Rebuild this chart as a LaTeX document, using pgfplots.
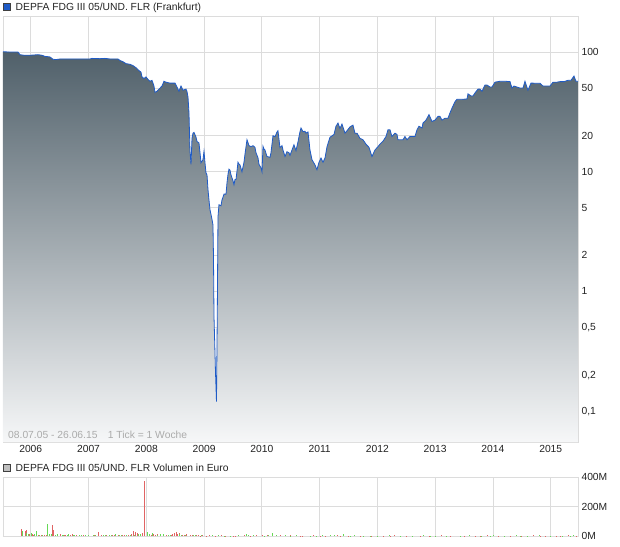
\documentclass[border=0pt]{standalone}
\usepackage{pgfplots}
\usepackage{pgfplotstable}
\pgfplotsset{compat=1.18}
\usepackage{fontspec}
\setmainfont{Liberation Sans}
\definecolor{gridc}{HTML}{DCDCDC}
\definecolor{linec}{HTML}{1F5BC6}
\definecolor{topc}{HTML}{50606A}
\definecolor{botc}{HTML}{F6F7F8}
\definecolor{volred}{HTML}{E06464}
\definecolor{volgreen}{HTML}{66D855}
\definecolor{txt}{HTML}{222222}

\pgfplotstableread{
year value
2005.520 100.5
2005.641 100
2005.780 100
2005.814 95
2005.883 94
2005.987 94
2006.126 95
2006.195 94
2006.247 92
2006.333 91
2006.385 87
2006.437 86.5
2006.507 87.5
2006.680 87.5
2006.853 87.5
2007.026 87.5
2007.060 88.5
2007.199 88
2007.285 88.5
2007.372 87.5
2007.510 87.5
2007.545 85
2007.597 83
2007.649 80
2007.718 79
2007.770 77
2007.822 74
2007.874 70
2007.908 68
2007.926 62
2007.960 60
2007.995 62
2008.030 59
2008.064 57
2008.099 58
2008.133 52
2008.151 46
2008.185 47
2008.220 49
2008.272 52
2008.306 57
2008.341 56
2008.410 55
2008.497 55
2008.531 51
2008.566 47
2008.601 52
2008.635 48
2008.687 49
2008.704 47
2008.722 42
2008.739 31
2008.756 15
2008.774 11.5
2008.791 19
2008.808 21
2008.826 21.3
2008.860 19.5
2008.878 17.9
2008.912 17.4
2008.930 14.4
2008.947 11.9
2008.981 12.6
2008.999 14.8
2009.016 11.9
2009.033 9.8
2009.051 9.4
2009.068 7.1
2009.085 5.8
2009.103 4.8
2009.120 4.4
2009.137 4.0
2009.154 3.6
2009.163 1.97
2009.172 0.62
2009.198 0.21
2009.215 0.12
2009.229 0.67
2009.241 4.2
2009.258 5.3
2009.293 5.2
2009.310 5.8
2009.345 6.5
2009.380 6.5
2009.397 8.1
2009.414 9.5
2009.431 10.5
2009.449 10.3
2009.466 9.4
2009.501 8.4
2009.518 7.8
2009.535 8.6
2009.553 8.6
2009.587 12
2009.604 11.6
2009.622 11.4
2009.656 10
2009.691 12
2009.708 14
2009.743 18.5
2009.778 16.5
2009.812 16.2
2009.847 16.5
2009.881 16
2009.899 14.4
2009.933 13.1
2009.951 11.5
2009.985 10.8
2010.003 10
2010.020 16.3
2010.037 15.5
2010.054 15.2
2010.089 13.4
2010.141 13.2
2010.158 14.4
2010.193 20
2010.228 19.6
2010.262 21.5
2010.279 22
2010.314 15.9
2010.349 16.5
2010.366 15.2
2010.401 13.4
2010.435 14.7
2010.470 14.4
2010.487 13.7
2010.522 15.2
2010.556 16.8
2010.591 15
2010.626 17.8
2010.660 21.6
2010.678 23.2
2010.712 21.6
2010.747 21.8
2010.764 21
2010.799 21.5
2010.833 15.2
2010.868 12.6
2010.920 11.4
2010.954 10.4
2010.989 12
2011.024 13
2011.058 12
2011.093 13
2011.128 16.2
2011.179 19.4
2011.249 20.5
2011.283 24
2011.318 25.5
2011.352 23
2011.387 25
2011.439 21
2011.474 22
2011.526 23.7
2011.577 24.5
2011.612 21
2011.647 21
2011.699 19
2011.751 18.5
2011.802 17
2011.854 16
2011.906 13.4
2011.958 15.2
2012.010 16.2
2012.045 17
2012.097 18
2012.149 19.7
2012.183 22.4
2012.218 22.4
2012.252 19.7
2012.304 21
2012.339 20.5
2012.356 18.5
2012.443 18.5
2012.477 19.7
2012.512 18.5
2012.564 19.7
2012.650 19.7
2012.685 22.4
2012.720 24
2012.772 23.2
2012.789 25.5
2012.841 27
2012.893 30
2012.945 26.3
2012.997 27
2013.049 29
2013.083 29
2013.118 27
2013.170 28
2013.222 28
2013.256 31
2013.291 34
2013.343 38.5
2013.377 40.3
2013.464 40.3
2013.550 40.5
2013.568 44.7
2013.620 43
2013.654 43
2013.689 45.5
2013.741 49
2013.775 49
2013.810 47
2013.862 53
2013.897 53
2013.949 51
2013.983 51
2014.035 56
2014.122 57
2014.208 57
2014.295 56.6
2014.329 50
2014.364 52
2014.416 51
2014.468 50
2014.520 50
2014.554 57
2014.606 48
2014.658 55
2014.693 55
2014.727 54.8
2014.814 54.8
2014.866 52
2014.935 52
2014.987 52
2015.039 56
2015.108 56
2015.160 56.6
2015.229 56.6
2015.298 58
2015.350 58
2015.402 63
2015.437 57
2015.472 57
}\pricedata

\pgfplotstableread{
year vol
2005.844 50
2005.901 32
2005.930 43
2005.970 15
2006.022 12
2006.050 9
2006.126 8
2006.178 10
2006.230 6
2006.270 7
2006.373 77
2006.394 43
2006.455 10
2006.507 12
2006.576 8
2006.600 10
2006.680 7
2006.720 12
2006.783 6
2006.870 8
2006.905 5
2006.991 6
2007.100 9
2007.164 25
2007.216 8
2007.250 7
2007.303 5
2007.406 6
2007.450 10
2007.510 5
2007.580 8
2007.614 7
2007.683 6
2007.740 12
2007.770 36
2007.813 27
2007.839 22
2007.891 15
2007.934 18
2007.960 375
2008.020 15
2008.081 8
2008.120 12
2008.151 10
2008.200 14
2008.237 7
2008.300 9
2008.341 9
2008.428 8
2008.460 16
2008.480 20
2008.514 24
2008.540 12
2008.566 22
2008.620 10
2008.653 6
2008.700 12
2008.756 7
2008.800 8
2008.860 4
2008.900 9
2008.930 3
2008.970 6
2009.033 3
2009.100 4
2009.189 2
2009.300 5
2009.362 3
2009.500 3
2009.535 2
2009.700 6
2009.795 3
2009.900 4
2010.003 4
2010.100 5
2010.314 7
2010.500 4
2010.660 3
2010.700 3
2010.900 4
2011.006 2
2011.100 3
2011.300 4
2011.352 3
2011.500 3
2011.699 2
2011.900 3
2012.100 3
2012.218 2
2012.300 4
2012.500 3
2012.737 2
2012.900 3
2013.100 4
2013.256 2
2013.500 3
2013.700 3
2013.775 2
2013.900 4
2014.100 3
2014.295 2
2014.500 3
2014.700 4
2014.814 2
2014.900 3
2015.100 3
2015.160 2
2015.300 4
2015.450 3
}\volred

\pgfplotstableread{
year vol
2005.861 32
2005.918 20
2005.953 15
2006.005 20
2006.057 12
2006.091 36
2006.100 14
2006.143 10
2006.200 9
2006.282 83
2006.316 12
2006.350 14
2006.420 10
2006.470 12
2006.541 6
2006.560 9
2006.628 8
2006.660 11
2006.732 7
2006.760 8
2006.835 9
2006.880 10
2006.939 6
2007.000 7
2007.078 5
2007.120 9
2007.251 5
2007.300 8
2007.355 6
2007.400 10
2007.458 12
2007.530 7
2007.562 6
2007.660 9
2007.718 8
2007.800 10
2007.856 15
2007.900 14
2008.012 27
2008.050 12
2008.100 18
2008.185 10
2008.250 12
2008.289 15
2008.376 10
2008.420 9
2008.580 15
2008.601 6
2008.670 8
2008.808 4
2008.850 7
2008.950 5
2009.150 4
2009.241 6
2009.350 3
2009.449 3
2009.600 5
2009.726 12
2009.760 8
2009.850 4
2010.050 3
2010.106 8
2010.176 20
2010.245 10
2010.400 4
2010.487 3
2010.600 5
2010.833 3
2010.950 3
2011.050 4
2011.179 5
2011.250 6
2011.404 15
2011.526 3
2011.600 4
2011.750 3
2011.872 2
2012.000 3
2012.200 4
2012.391 2
2012.600 3
2012.800 4
2012.910 2
2013.000 3
2013.200 3
2013.429 2
2013.600 4
2013.800 3
2013.949 2
2014.000 4
2014.200 3
2014.400 4
2014.468 2
2014.600 3
2014.800 4
2014.987 2
2015.000 3
2015.200 3
2015.333 2
2015.400 4
}\volgreen

\begin{document}
\begin{tikzpicture}
\useasboundingbox (0pt,0pt) rectangle (620pt,-546pt);

% titles
\filldraw[fill=linec, draw=black!75, line width=0.6pt] (3.3pt,-3.3pt) rectangle (10.7pt,-10.7pt);
\node[anchor=base west, inner sep=0pt, font=\fontsize{10.3}{12}\selectfont, text=txt] at (15.5pt,-10.5pt) {DEPFA FDG III 05/UND. FLR (Frankfurt)};
\filldraw[fill=black!25, draw=black!75, line width=0.6pt] (3.3pt,-464.3pt) rectangle (10.7pt,-471.7pt);
\node[anchor=base west, inner sep=0pt, font=\fontsize{10.3}{12}\selectfont, text=txt] at (15.5pt,-471.5pt) {DEPFA FDG III 05/UND. FLR Volumen in Euro};

\begin{axis}[
  at={(3pt,-16pt)}, anchor=north west,
  scale only axis, width=575pt, height=426pt,
  ymode=log, log origin y=infty,
  xmin=2005.52, xmax=2015.472, ymin=0.0552, ymax=200,
  axis line style={gridc},
  grid=major, grid style={gridc, line width=0.8pt},
  major tick length=0pt,
  xtick={2006,2007,2008,2009,2010,2011,2012,2013,2014,2015},
  xticklabels={2006,2007,2008,2009,2010,2011,2012,2013,2014,2015},
  ytick={0.1,0.2,0.5,1,2,5,10,20,50,100},
  yticklabels={{0,1},{0,2},{0,5},1,2,5,10,20,50,100},
  yticklabel pos=right,
  ticklabel style={font=\fontsize{10.3}{12}\selectfont, text=txt},
  clip=true,
]
\addplot[draw=none, top color=topc, bottom color=botc] table[x=year, y=value] {\pricedata} \closedcycle;
\addplot[linec, line width=0.8pt, line join=miter] table[x=year, y=value] {\pricedata};
\end{axis}

\node[anchor=base west, inner sep=0pt, font=\fontsize{10.3}{12}\selectfont, text=black!33] at (8pt,-438pt) {08.07.05 - 26.06.15\quad 1 Tick = 1 Woche};

\begin{axis}[
  at={(3pt,-477pt)}, anchor=north west,
  scale only axis, width=575pt, height=59pt,
  xmin=2005.52, xmax=2015.472, ymin=0, ymax=400,
  axis line style={gridc},
  grid=major, grid style={gridc, line width=0.8pt},
  major tick length=0pt,
  xtick={2006,2007,2008,2009,2010,2011,2012,2013,2014,2015},
  xticklabels={},
  ytick={0,200,400},
  yticklabels={0M,200M,400M},
  yticklabel pos=right,
  ticklabel style={font=\fontsize{10.3}{12}\selectfont, text=txt},
]
\addplot[ycomb, volred, line width=0.9pt, mark=none] table[x=year, y=vol] {\volred};
\addplot[ycomb, volgreen, line width=0.9pt, mark=none] table[x=year, y=vol] {\volgreen};
\end{axis}
\end{tikzpicture}
\end{document}
